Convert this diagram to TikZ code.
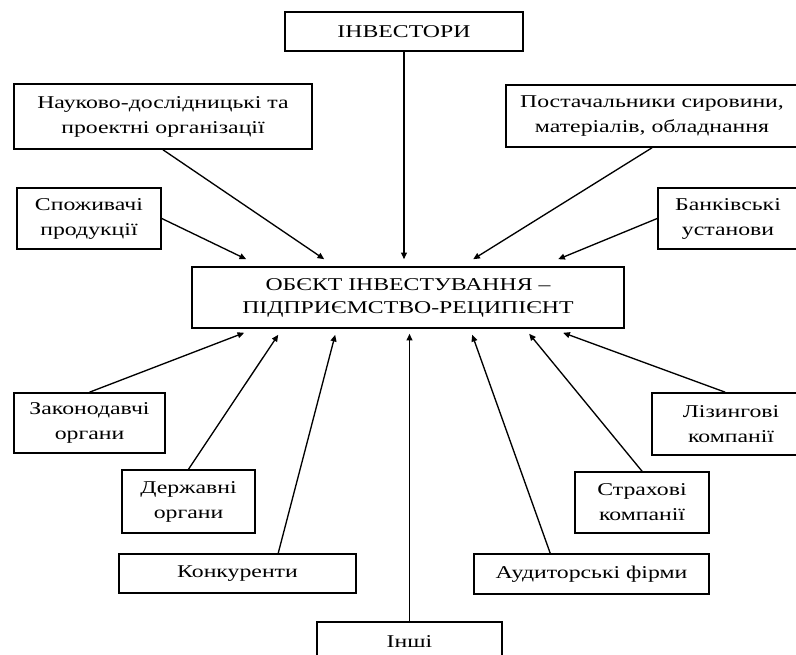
\documentclass[tikz,border=0pt]{standalone}
\usepackage{fontspec}
\setmainfont{Liberation Serif}[FakeStretch=1.32]
\usetikzlibrary{arrows.meta,calc}
\tikzset{
  box/.style 2 args={draw, line width=1.2pt, inner sep=0pt, align=center,
    minimum width={#1*0.75pt}, minimum height={#2*0.75pt},
    font=\fontsize{13.5}{18.75}\selectfont},
  arr/.style={line width=1pt, -{Triangle[length=5pt,width=4.4pt]}}
}
\begin{document}
\begin{tikzpicture}[x=0.75pt,y=-0.75pt]
\useasboundingbox (0,0) rectangle (796,655);
\fill[white] (0,0) rectangle (796,655);
\clip (0,0) rectangle (796,655);
% nodes
\node[box={238}{39}] (inv) at (404,31.5) {ІНВЕСТОРИ};
\node[box={298}{65}] (nauk) at (163,116.5) {Науково-дослідницькі та\\проектні організації};
\node[box={292}{62}] (post) at (652,116) {Постачальники сировини,\\матеріалів, обладнання};
\node[box={144}{61}] (spoz) at (89,218.5) {Споживачі\\продукції};
\node[box={140}{61}] (bank) at (728,218.5) {Банківські\\установи};
\node[box={432}{61}, font=\fontsize{13.5}{17.25}\selectfont] (obj) at (408,297.5) {ОБЄКТ ІНВЕСТУВАННЯ –\\ПІДПРИЄМСТВО-РЕЦИПІЄНТ};
\node[box={151}{60}] (zak) at (89.5,423) {Законодавчі\\органи};
\node[box={133}{63}] (derzh) at (188.5,501.5) {Державні\\органи};
\node[box={237}{39}] (konk) at (237.5,573.5) {Конкуренти};
\node[box={185}{39}] (inshi) at (409.5,641.5) {Інші};
\node[box={235}{40}] (aud) at (591.5,574) {Аудиторські фірми};
\node[box={134}{61}] (strakh) at (642,502.5) {Страхові\\компанії};
\node[box={158}{62}] (liz) at (731,424) {Лізингові\\компанії};
% helper coordinates
\coordinate (tl) at ($(obj.north)+(0,-7)$);
\coordinate (bl) at ($(obj.south)+(0,5)$);
% connectors into the top
\draw[arr] (inv.south) -- (inv.south |- tl);
\draw[arr] (nauk.south) -- ($(obj.north west)+(133,-7)$);
\draw[arr] (spoz.east) -- ($(obj.north west)+(55,-7)$);
\draw[arr] (post.south) -- ($(obj.north west)+(282,-7)$);
\draw[arr] (bank.west) -- ($(obj.north west)+(367,-7)$);
% connectors into the bottom
\draw[arr] (zak.north) -- ($(obj.south west)+(53,4)$);
\draw[arr] (derzh.north) -- ($(obj.south west)+(87,6)$);
\draw[arr] ($(konk.north west)+(160,0)$) -- ($(obj.south west)+(144,6)$);
\draw[arr] (inshi.north) -- (inshi.north |- bl);
\draw[arr] ($(aud.north west)+(77,0)$) -- ($(obj.south west)+(281,6)$);
\draw[arr] (strakh.north) -- ($(obj.south west)+(338,5)$);
\draw[arr] ($(liz.north west)+(74,0)$) -- ($(obj.south west)+(372,4)$);
\end{tikzpicture}
\end{document}
